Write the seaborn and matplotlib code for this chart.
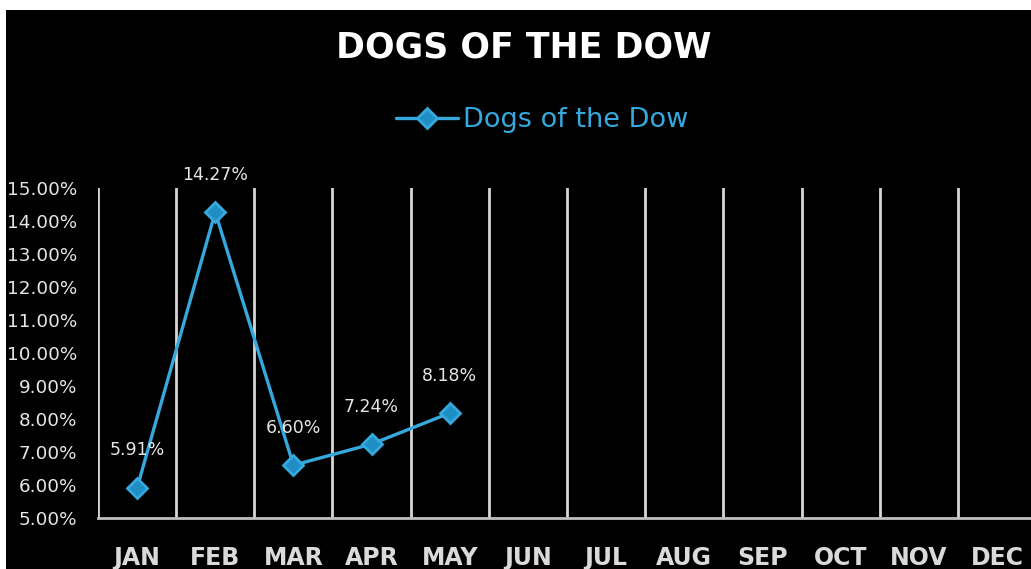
import matplotlib
matplotlib.use("Agg")
import matplotlib.pyplot as plt
from matplotlib.patches import Rectangle
from matplotlib.ticker import FixedLocator, FuncFormatter
import seaborn as sns
import pandas as pd

# Monthly returns (percent) for the Dogs of the Dow strategy
months = ["JAN", "FEB", "MAR", "APR", "MAY", "JUN", "JUL", "AUG", "SEP", "OCT", "NOV", "DEC"]
returns = [5.91, 14.27, 6.60, 7.24, 8.18]
series_name = "Dogs of the Dow"
y_ticks = [5, 6, 7, 8, 9, 10, 11, 12, 13, 14, 15]

BLUE = "#35A9DD"
MARKER_FILL = "#1F8EC4"
GRID = "#D6D6D6"
TEXT = "#E6E6E6"

sns.set_style("dark", rc={"axes.facecolor": "black", "figure.facecolor": "white"})
plt.rcParams["font.family"] = ["DejaVu Sans"]

W, H = 1031, 569
fig = plt.figure(figsize=(W / 100, H / 100), dpi=100)
fig.patches.append(Rectangle((6 / W, 0), 1, (H - 10) / H, transform=fig.transFigure,
                             facecolor="black", edgecolor="none", zorder=-10))

ax = fig.add_axes([98 / W, 51 / H, 938 / W, 330 / H])
ax.set_facecolor("black")

df = pd.DataFrame({"pos": range(len(returns)), "ret": returns})
sns.lineplot(data=df, x="pos", y="ret", ax=ax, color=BLUE, linewidth=2.4,
             marker="D", markersize=10.5, markerfacecolor=MARKER_FILL,
             markeredgecolor=BLUE, markeredgewidth=2, label=series_name, zorder=5)

# value labels above each point
for i, v in enumerate(returns):
    ax.annotate(f"{v:.2f}%", (i, v), xytext=(0, 27), textcoords="offset points",
                ha="center", va="center", fontsize=12.5, color=TEXT, zorder=6)

ax.set_xlim(-0.5, len(months) - 0.5)
ax.set_ylim(y_ticks[0], y_ticks[-1])
ax.xaxis.set_major_locator(FixedLocator(range(len(months))))
ax.set_xticklabels(months)
ax.xaxis.set_minor_locator(FixedLocator([k - 0.5 for k in range(len(months) + 1)]))
ax.set_yticks(y_ticks)
ax.yaxis.set_major_formatter(FuncFormatter(lambda v, p: f"{v:.2f}%"))

ax.grid(False)
ax.grid(which="minor", axis="x", color=GRID, linewidth=2)
ax.tick_params(axis="x", which="both", length=0, pad=20, labelsize=17, labelcolor="#DADADA")
ax.tick_params(axis="y", which="both", length=0, pad=15, labelsize=13.2, labelcolor=TEXT)
for lbl in ax.get_xticklabels():
    lbl.set_fontweight("bold")

for side in ["top", "right", "left"]:
    ax.spines[side].set_visible(False)
ax.spines["bottom"].set_color("#BFBFBF")
ax.spines["bottom"].set_linewidth(2)
ax.set_xlabel("")
ax.set_ylabel("")

leg = ax.legend(loc="center", bbox_to_anchor=(542 / W, 1 - 120 / H),
                bbox_transform=fig.transFigure, frameon=False, fontsize=19.5,
                handlelength=2.3, handletextpad=0.2)
for t in leg.get_texts():
    t.set_color(BLUE)

fig.text(524 / W, 1 - 48 / H, "DOGS OF THE DOW", ha="center", va="center",
         fontsize=25, fontweight="bold", color="white")

fig.savefig("out.png", dpi=100)
